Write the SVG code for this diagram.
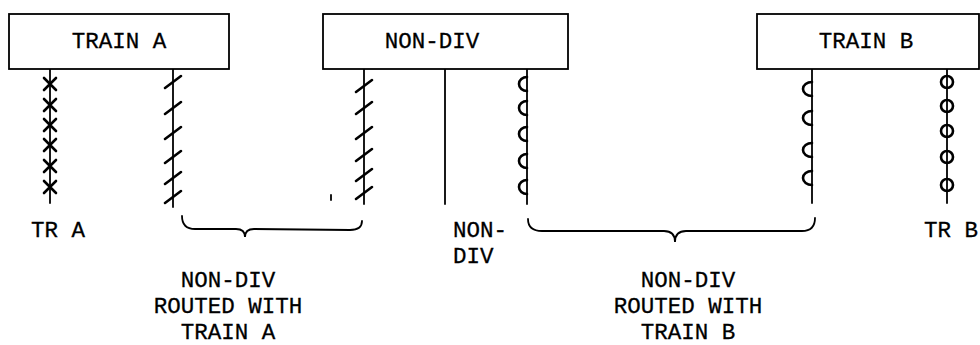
<svg xmlns="http://www.w3.org/2000/svg" width="980" height="345" viewBox="0 0 980 345">
<style>
.box{fill:#fff;stroke:#000;stroke-width:1.8}
.ln{fill:none;stroke:#000;stroke-width:1.8;stroke-linecap:round}
.mk{fill:none;stroke:#000;stroke-width:2.6;stroke-linecap:round}
.t{font-family:"Liberation Mono","Courier New",monospace;font-size:22.5px;fill:#000;stroke:#000;stroke-width:0.3}
.c{text-anchor:middle}
</style>
<defs>
<path id="x" class="mk" d="M-6,-6 L6,6 M6,-6 L-6,6"/>
<path id="s" class="mk" d="M-8,6 L8,-6"/>
<path id="lp" class="mk" d="M0,-7 A8,7 0 0 0 0,7"/>
<path id="lpb" class="mk" d="M0,-7 A9,7 0 0 0 0,7"/>
<circle id="o" class="mk" r="6"/>
</defs>
<rect width="980" height="345" fill="#fff"/>
<g id="connectors">
<g id="wire-tra">
<line class="ln" x1="50" y1="69" x2="50" y2="203"/>
<use href="#x" x="50" y="84"/><use href="#x" x="50" y="105"/><use href="#x" x="50" y="125"/><use href="#x" x="50" y="145"/><use href="#x" x="50" y="166"/><use href="#x" x="50" y="187"/>
</g>
<g id="wire-a-nd1">
<line class="ln" x1="173" y1="69" x2="173" y2="207"/>
<use href="#s" x="173" y="82"/><use href="#s" x="173" y="108"/><use href="#s" x="173" y="133"/><use href="#s" x="173" y="157"/><use href="#s" x="173" y="178"/><use href="#s" x="173" y="197"/>
</g>
<g id="wire-a-nd2">
<line class="ln" x1="364" y1="69" x2="364" y2="204"/>
<use href="#s" x="364" y="86"/><use href="#s" x="364" y="108"/><use href="#s" x="364" y="133"/><use href="#s" x="364" y="155"/><use href="#s" x="364" y="175"/><use href="#s" x="364" y="193"/>
</g>
<line class="ln" x1="331" y1="195" x2="331" y2="200"/>
<line id="wire-nd" class="ln" x1="445" y1="69" x2="445" y2="204"/>
<g id="wire-b-nd1">
<line class="ln" x1="527" y1="69" x2="527" y2="204"/>
<use href="#lp" x="527" y="84"/><use href="#lp" x="527" y="108"/><use href="#lp" x="527" y="134"/><use href="#lp" x="527" y="161"/><use href="#lp" x="527" y="187"/>
</g>
<g id="wire-b-nd2">
<line class="ln" x1="812" y1="69" x2="812" y2="203"/>
<use href="#lpb" x="812" y="89"/><use href="#lpb" x="812" y="118"/><use href="#lpb" x="812" y="150"/><use href="#lpb" x="812" y="178"/>
</g>
<g id="wire-trb">
<line class="ln" x1="947" y1="69" x2="947" y2="203"/>
<use href="#o" x="947" y="82"/><use href="#o" x="947" y="106"/><use href="#o" x="947" y="131"/><use href="#o" x="947" y="157"/><use href="#o" x="947" y="185"/>
</g>
<path id="brace-a" class="ln" d="M182,216 Q182,229 195,229 L236,229 Q245,229 245,237 Q245,229 254,229 L350,230 Q362,230 362,221"/>
<path id="brace-b" class="ln" d="M528,219 Q528,231 542,231 L664,231 Q675,231 675,242 Q675,231 686,231 L802,231 Q815,231 815,218"/>
</g>
<g id="train-a">
<rect class="box" x="9" y="14" width="220" height="55"/>
<text class="t c" x="119" y="48">TRAIN A</text>
</g>
<g id="non-div">
<rect class="box" x="323" y="14" width="245" height="55"/>
<text class="t c" x="432" y="48">NON-DIV</text>
</g>
<g id="train-b">
<rect class="box" x="757" y="14" width="222" height="55"/>
<text class="t c" x="866" y="48">TRAIN B</text>
</g>
<g id="labels">
<text class="t" x="31" y="237">TR A</text>
<text class="t" x="453" y="237">NON-</text>
<text class="t" x="453" y="263">DIV</text>
<text class="t" x="924" y="237">TR B</text>
<text class="t c" x="228" y="287">NON-DIV</text>
<text class="t c" x="228" y="313">ROUTED WITH</text>
<text class="t c" x="228" y="339">TRAIN A</text>
<text class="t c" x="688" y="287">NON-DIV</text>
<text class="t c" x="688" y="313">ROUTED WITH</text>
<text class="t c" x="688" y="339">TRAIN B</text>
</g>
</svg>
